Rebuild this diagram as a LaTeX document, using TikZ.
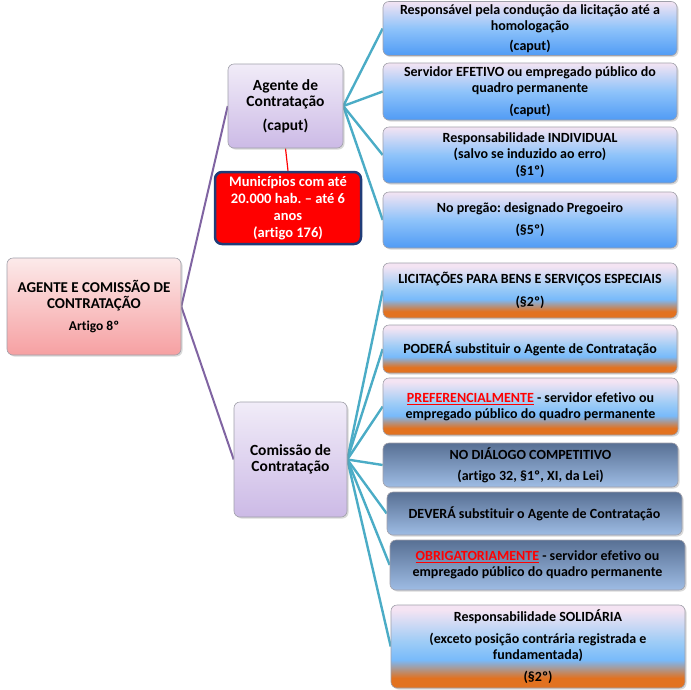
\documentclass[tikz,border=0pt]{standalone}
\usepackage{fontspec}
\setmainfont{Carlito}[Ligatures=NoCommon]
\usetikzlibrary{shadows,backgrounds}
\frenchspacing
\definecolor{tealc}{RGB}{75,172,198}
\definecolor{purpc}{RGB}{128,100,162}
\definecolor{pnk}{RGB}{244,228,243}
\definecolor{bblue}{RGB}{80,155,245}
\definecolor{mblue}{RGB}{142,195,250}
\definecolor{lblue}{RGB}{158,204,246}
\definecolor{sblue}{RGB}{120,186,250}
\definecolor{orng}{RGB}{226,114,32}
\definecolor{dtop}{RGB}{88,112,148}
\definecolor{dbot}{RGB}{158,188,228}
\definecolor{rtop}{RGB}{252,234,234}
\definecolor{rbot}{RGB}{246,160,162}
\definecolor{ltop}{RGB}{241,236,248}
\definecolor{lbot}{RGB}{204,186,230}
\definecolor{edgec}{RGB}{160,160,170}
\definecolor{navy}{RGB}{32,60,120}
\pgfdeclareverticalshading{bluesh}{100bp}{color(0bp)=(bblue); color(25bp)=(bblue); color(50bp)=(mblue); color(75bp)=(pnk); color(100bp)=(pnk)}
\pgfdeclareverticalshading{orangesh}{100bp}{color(0bp)=(orng); color(25bp)=(orng); color(31bp)=(orng); color(42bp)=(sblue); color(53bp)=(lblue); color(72bp)=(pnk); color(100bp)=(pnk)}
\tikzset{
  base/.style={draw=edgec, line width=0.6pt, rounded corners=6pt, align=center, inner sep=0pt,
    font=\bfseries\fontsize{14}{16}\selectfont,
    drop shadow={shadow xshift=1.5pt, shadow yshift=-1.5pt, opacity=0.3}},
  bluebox/.style={base, shading=bluesh},
  orangebox/.style={base, shading=orangesh},
  darkbox/.style={base, top color=dtop, bottom color=dbot},
  rootbox/.style={base, top color=rtop, bottom color=rbot, font=\bfseries\fontsize{15}{16.5}\selectfont},
  lavbox/.style={base, top color=ltop, bottom color=lbot, font=\bfseries\fontsize{15.5}{16.5}\selectfont},
  redbox/.style={draw=navy, line width=2.5pt, fill=red, text=white, rounded corners=7pt, align=center, inner sep=0pt,
    font=\bfseries\fontsize{14.5}{17}\selectfont},
  tline/.style={draw=tealc, line width=2.4pt},
  pline/.style={draw=purpc, line width=2pt},
  rline/.style={draw=red, line width=1.2pt}
}
\begin{document}
\begin{tikzpicture}[x=1pt,y=-1pt]
\useasboundingbox (0,0) rectangle (691,689);
\node[rootbox, minimum width=174pt, minimum height=97pt] (root) at (94,306.5) {AGENTE E COMISSÃO DE\\CONTRATAÇÃO\\[5pt]{\fontsize{13.5}{15}\selectfont Artigo 8º}};
\node[lavbox, minimum width=115pt, minimum height=84pt] (ag) at (285.5,106) {Agente de\\Contratação\\[7pt](caput)};
\node[redbox, minimum width=146pt, minimum height=72pt] (red) at (288,208) {Municípios com até\\20.000 hab. – até 6\\anos\\(artigo 176)};
\node[lavbox, minimum width=113pt, minimum height=115pt] (com) at (290.5,459.5) {Comissão de\\Contratação};
\node[bluebox, minimum width=294pt, minimum height=54pt] (r1) at (530,28.5) {Responsável pela condução da licitação até a\\homologação\\[4pt](caput)};
\node[bluebox, minimum width=294pt, minimum height=57pt] (r2) at (530,91.5) {Servidor EFETIVO ou empregado público do\\quadro permanente\\[6pt](caput)};
\node[bluebox, minimum width=294pt, minimum height=56pt] (r3) at (530,155) {Responsabilidade INDIVIDUAL\\(salvo se induzido ao erro)\\[1pt](§1º)};
\node[bluebox, minimum width=294pt, minimum height=56pt] (r4) at (530,220) {No pregão: designado Pregoeiro\\[6pt](§5º)};
\node[orangebox, minimum width=294pt, minimum height=55pt] (r5) at (530,290.5) {LICITAÇÕES PARA BENS E SERVIÇOS ESPECIAIS\\[7pt](§2º)};
\node[orangebox, minimum width=294pt, minimum height=48pt] (r6) at (530,349) {PODERÁ substituir o Agente de Contratação};
\node[orangebox, minimum width=295pt, minimum height=57pt] (r7) at (530.5,406.5) {\textcolor{red}{\underline{PREFERENCIALMENTE}} - servidor efetivo ou\\empregado público do quadro permanente};
\node[darkbox, minimum width=295pt, minimum height=44pt] (r8) at (530.5,465) {NO DIÁLOGO COMPETITIVO\\[5pt](artigo 32, §1º, XI, da Lei)};
\node[darkbox, minimum width=295pt, minimum height=43pt] (r9) at (534.5,513.5) {DEVERÁ substituir o Agente de Contratação};
\node[darkbox, minimum width=295pt, minimum height=50pt] (r10) at (537.5,565) {\textcolor{red}{\underline{OBRIGATORIAMENTE}} - servidor efetivo ou\\empregado público do quadro permanente};
\node[orangebox, minimum width=294pt, minimum height=83pt] (r11) at (538,646.5) {Responsabilidade SOLIDÁRIA\\[6pt](exceto posição contrária registrada e\\fundamentada)\\[6pt](§2º)};
\begin{scope}[on background layer]
\draw[pline] (root.east) -- (ag.west);
\draw[pline] (root.east) -- (com.west);
\draw[rline] (ag.south) -- (red.north);
\foreach \n in {r1,r2,r3,r4} {\draw[tline] (ag.east) -- (\n.west);}
\foreach \n in {r5,r6,r7,r8,r9,r10,r11} {\draw[tline] (com.east) -- (\n.west);}
\end{scope}
\end{tikzpicture}
\end{document}
